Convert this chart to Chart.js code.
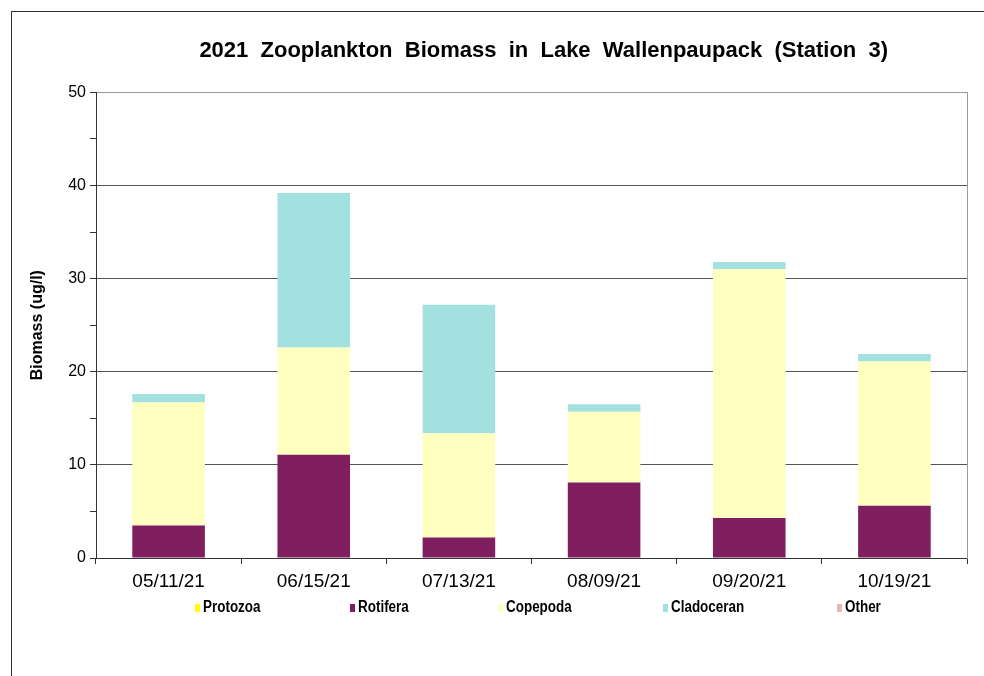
<!DOCTYPE html>
<html>
<head>
<meta charset="utf-8">
<title>2021 Zooplankton Biomass</title>
<script src="https://cdn.jsdelivr.net/npm/chart.js@4.4.1/dist/chart.umd.min.js"></script>
<style>
  body { margin: 0; background: #fff; }
  .wrap { position: relative; width: 984px; height: 676px; overflow: hidden; }
  .frame { position: absolute; left: 11px; top: 11px; width: 1000px; height: 700px;
           border-top: 1px solid #333; border-left: 1px solid #333; }
  canvas { position: absolute; left: 0; top: 0; }
  .legend { position: absolute; left: 195px; top: 598px; display: flex;
            font: bold 16px 'Liberation Sans Narrow', 'Liberation Sans', Arial, sans-serif; color: #000; }
  .legend .item { display: flex; align-items: center; margin-right: 79px; }
  .legend .box { width: 5px; height: 8px; margin-right: 3px; margin-top: 2px; }
  .legend .txt { display: inline-block; transform: scaleX(0.84); transform-origin: left center; }
</style>
</head>
<body>
<div class="wrap">
  <div class="frame"></div>
  <canvas id="chart" width="984" height="676"></canvas>
  <div class="legend" id="legend"></div>
</div>
<script>
// sampling dates
const dates = ["05/11/21", "06/15/21", "07/13/21", "08/09/21", "09/20/21", "10/19/21"];

// biomass (ug/l) per group
const protozoa = [0, 0, 0, 0, 0, 0];
const rotifera = [3.5, 11.1, 2.2, 8.1, 4.3, 5.6];
const copepoda = [13.2, 11.5, 11.2, 7.6, 26.7, 15.5];
const cladoceran = [0.9, 16.6, 13.8, 0.8, 0.8, 0.8];
const other = [0, 0, 0, 0, 0, 0];

const yTicks = [0, 10, 20, 30, 40, 50];

Chart.defaults.font.family = "'Liberation Sans', Arial, sans-serif";
Chart.defaults.color = "#000";

function bar(label, data, color) {
  return {
    label: label,
    data: data,
    backgroundColor: color,
    borderWidth: 0,
    yAxisID: "y",
    barPercentage: 0.5,
    categoryPercentage: 1.0,
  };
}

function gridColor(ctx) {
  const v = ctx.tick ? ctx.tick.value : 0;
  if (v === 50) return "#999";
  if (yTicks.includes(v)) return "#555";
  return "rgba(0,0,0,0)";
}

const chart = new Chart(document.getElementById("chart").getContext("2d"), {
  type: "bar",
  data: {
    labels: dates,
    datasets: [
      bar("Protozoa", protozoa, "#ffff00"),
      bar("Rotifera", rotifera, "#7f1f5f"),
      bar("Copepoda", copepoda, "#ffffc0"),
      bar("Cladoceran", cladoceran, "#a3e0e0"),
      bar("Other", other, "#e6b9b8"),
    ],
  },
  options: {
    responsive: false,
    animation: false,
    layout: { padding: { left: 20, right: 17, top: 20, bottom: 78 } },
    plugins: {
      legend: { display: false },
      tooltip: { enabled: false },
      title: {
        display: true,
        fullSize: false,
        text: "    2021  Zooplankton  Biomass  in  Lake  Wallenpaupack  (Station  3)",
        font: { size: 22, weight: "bold" },
        color: "#000",
        padding: { top: 18, bottom: 28 },
      },
    },
    scales: {
      x: {
        stacked: true,
        offset: true,
        grid: { offset: true, drawOnChartArea: false, tickLength: 6, tickColor: "#333" },
        border: { color: "#333" },
        ticks: { font: { size: 19 }, padding: 6, maxRotation: 0, color: "#000" },
        afterFit: (s) => { s.height = 40; },
      },
      y: {
        stacked: true,
        min: 0,
        max: 50,
        ticks: {
          stepSize: 5,
          autoSkip: false,
          padding: 4,
          font: { size: 16 },
          color: "#000",
          callback: (v) => (yTicks.includes(v) ? v : ""),
        },
        grid: { color: gridColor, tickColor: "#333", tickLength: 6 },
        border: { color: "#333" },
        title: {
          display: true,
          text: "Biomass (ug/l)",
          font: { size: 16, weight: "bold" },
          color: "#000",
          padding: { top: 8, bottom: 0 },
        },
        afterFit: (s) => { s.width = 76; },
      },
      y2: {
        position: "right",
        min: 0,
        max: 50,
        grid: { display: false },
        ticks: { display: false },
        border: { display: true, color: "#999" },
        afterFit: (s) => { s.width = 0; },
      },
    },
  },
});

// html legend built from the chart's datasets
const legendEl = document.getElementById("legend");
chart.data.datasets.forEach((ds) => {
  const item = document.createElement("span");
  item.className = "item";
  const box = document.createElement("span");
  box.className = "box";
  box.style.background = ds.backgroundColor;
  const txt = document.createElement("span");
  txt.className = "txt";
  txt.innerText = ds.label;
  item.appendChild(box);
  item.appendChild(txt);
  legendEl.appendChild(item);
});
</script>
</body>
</html>
